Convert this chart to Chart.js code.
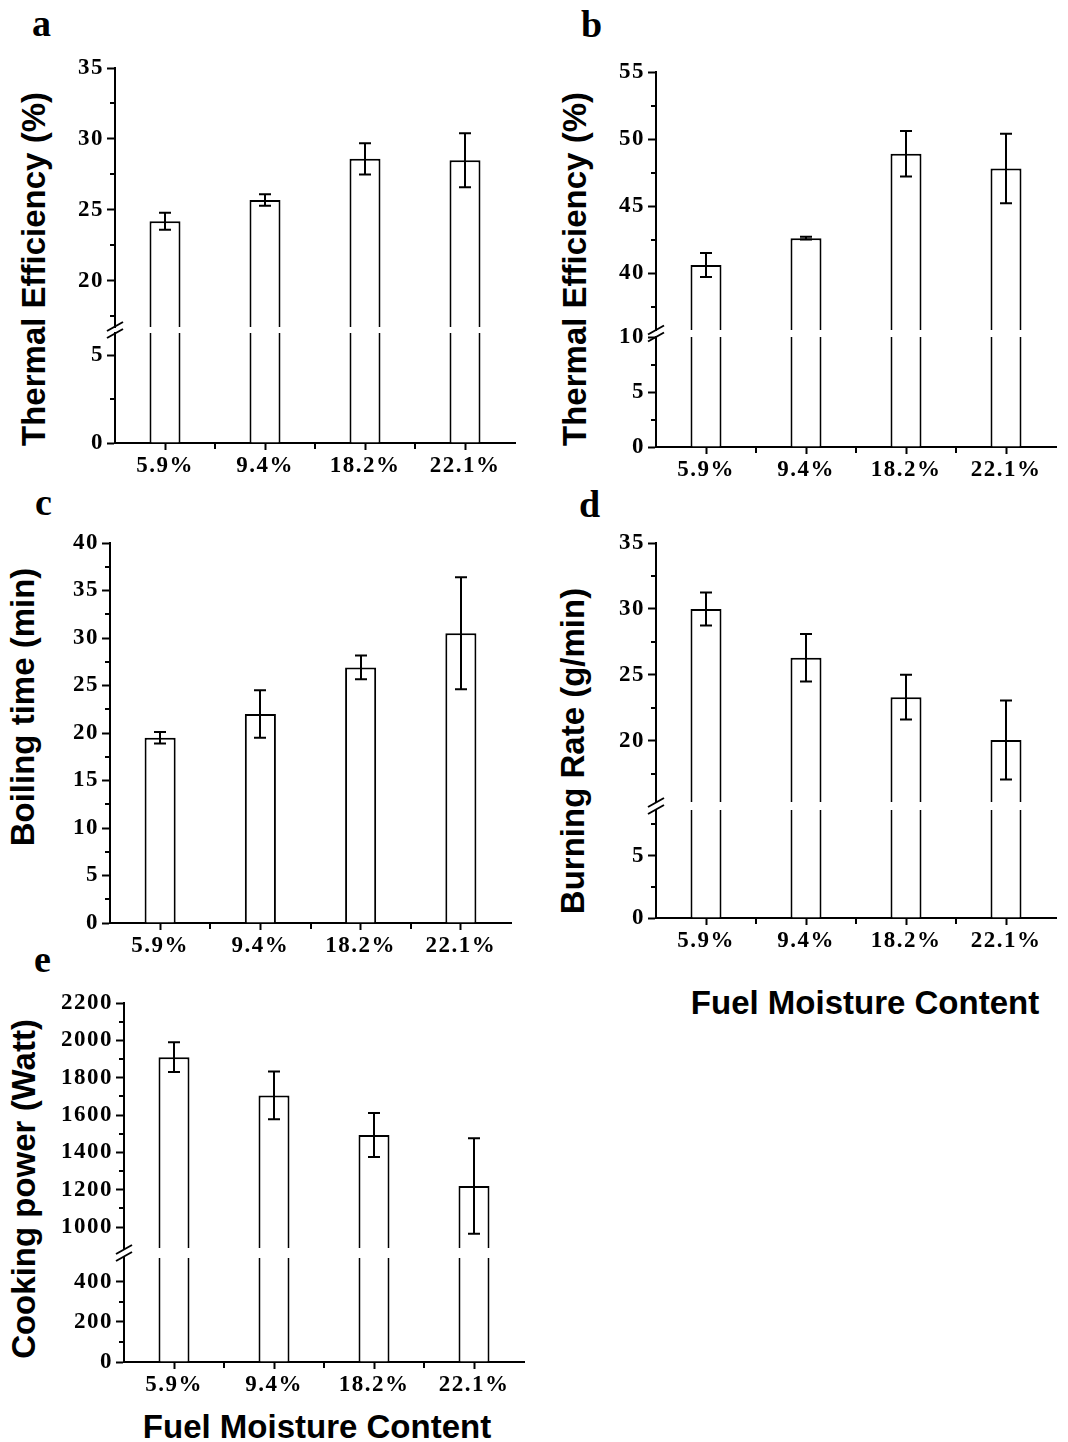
<!DOCTYPE html>
<html>
<head>
<meta charset="utf-8">
<script src="https://cdn.jsdelivr.net/npm/chart.js@4.4.1/dist/chart.umd.min.js"></script>
<style>
  html, body { margin: 0; padding: 0; background: #fff; }
  #fig { position: relative; width: 1068px; height: 1442px; background: #fff; overflow: hidden; }
  .letter { position: absolute; font: bold 38px 'Liberation Serif', 'Times New Roman', serif; line-height: 38px; color: #000; }
  .ytitle { position: absolute; transform: translate(-50%, -50%) rotate(-90deg); white-space: nowrap;
            font: bold 33px 'Liberation Sans', Arial, sans-serif; line-height: 1; color: #000; }
  .xtitle { position: absolute; transform: translate(-50%, -50%); white-space: nowrap;
            font: bold 33px 'Liberation Sans', Arial, sans-serif; line-height: 1; color: #000; }
</style>
</head>
<body>
<div id="fig">
  <div class="letter" style="left:32px;top:4px">a</div>
  <div class="letter" style="left:581px;top:5px">b</div>
  <div class="letter" style="left:35px;top:483px">c</div>
  <div class="letter" style="left:579px;top:485px">d</div>
  <div class="letter" style="left:34px;top:940px">e</div>

  <div class="ytitle" style="left:33px;top:269px">Thermal Efficiency (%)</div>
  <div class="ytitle" style="left:574px;top:269px">Thermal Efficiency (%)</div>
  <div class="ytitle" style="left:22px;top:707px">Boiling time (min)</div>
  <div class="ytitle" style="left:572px;top:751px">Burning Rate (g/min)</div>
  <div class="ytitle" style="left:23px;top:1189px">Cooking power (Watt)</div>

  <div class="xtitle" style="left:865px;top:1002px">Fuel Moisture Content</div>
  <div class="xtitle" style="left:317px;top:1426px">Fuel Moisture Content</div>
</div>
<script>
// valores
const categories = ['5.9%', '9.4%', '18.2%', '22.1%'];

const efficiencyA = [24.2, 25.7, 28.6, 28.5];
const efficiencyAErr = [0.6, 0.4, 1.1, 1.9];

const efficiencyB = [40.6, 42.6, 48.9, 47.8];
const efficiencyBErr = [0.9, 0.1, 1.7, 2.6];

const boilingTime = [19.5, 22.0, 26.9, 30.5];
const boilingTimeErr = [0.6, 2.5, 1.25, 5.9];

const burningRate = [30.0, 26.3, 23.3, 20.05];
const burningRateErr = [1.25, 1.8, 1.7, 3.0];

const cookingPower = [1910, 1705, 1493, 1220];
const cookingPowerErr = [80, 128, 118, 256];

// ticks (major com rótulo, minor só marca)
const ticksAUpper = [20, 25, 30, 35];
const minorAUpper = [17.5, 22.5, 27.5, 32.5];
const ticksALower = [0, 5];
const minorALower = [2.5];

const ticksBUpper = [40, 45, 50, 55];
const minorBUpper = [37.5, 42.5, 47.5, 52.5];
const ticksBLower = [0, 5, 10];
const minorBLower = [2.5, 7.5];

const ticksC = [0, 5, 10, 15, 20, 25, 30, 35, 40];
const minorC = [2.5, 7.5, 12.5, 17.5, 22.5, 27.5, 32.5, 37.5];

const ticksDUpper = [20, 25, 30, 35];
const minorDUpper = [17.5, 22.5, 27.5, 32.5];
const ticksDLower = [0, 5];
const minorDLower = [2.5, 7.5];

const ticksEUpper = [1000, 1200, 1400, 1600, 1800, 2000, 2200];
const minorEUpper = [1100, 1300, 1500, 1700, 1900, 2100];
const ticksELower = [0, 200, 400];
const minorELower = [100, 300];

const PT = 20, PB = 20, YW = 80, XH = 50, PR = 4;
const tickFont = { family: "'Liberation Serif', 'Times New Roman', serif", size: 23, weight: 'bold' };
const fig = document.getElementById('fig');

function segment(s) {
    const W = YW + (s.right - s.axisX) + PR;
    const H = PT + (s.bottom - s.top) + (s.showX ? XH : PB);
    const canvas = document.createElement('canvas');
    canvas.width = W;
    canvas.height = H;
    canvas.style.cssText = `position:absolute;left:${s.axisX - YW}px;top:${s.top - PT}px;width:${W}px;height:${H}px`;
    fig.appendChild(canvas);

    const decor = {
        id: 'decor',
        beforeDraw(chart) {
            // rótulos do original são um pouco mais largos
            chart.ctx.letterSpacing = '1.5px';
        },
        afterDatasetsDraw(chart) {
            const { ctx, chartArea, scales: { x, y } } = chart;
            ctx.save();
            ctx.strokeStyle = '#000';
            ctx.lineWidth = 2;
            ctx.beginPath();
            // barras de erro
            if (s.errors) {
                s.values.forEach((v, i) => {
                    const px = Math.round(x.getPixelForValue(i));
                    const hi = y.getPixelForValue(v + s.errors[i]);
                    const lo = y.getPixelForValue(v - s.errors[i]);
                    ctx.moveTo(px, hi); ctx.lineTo(px, lo);
                    ctx.moveTo(px - 6, hi); ctx.lineTo(px + 6, hi);
                    ctx.moveTo(px - 6, lo); ctx.lineTo(px + 6, lo);
                });
            }
            // minor ticks
            s.minor.forEach(v => {
                const py = Math.round(y.getPixelForValue(v));
                ctx.moveTo(chartArea.left, py);
                ctx.lineTo(chartArea.left - 5, py);
            });
            if (s.showX) {
                for (let i = 0; i < categories.length - 1; i++) {
                    const px = Math.round((x.getPixelForValue(i) + x.getPixelForValue(i + 1)) / 2);
                    ctx.moveTo(px, chartArea.bottom);
                    ctx.lineTo(px, chartArea.bottom + 6);
                }
            }
            ctx.stroke();
            // quebra do eixo
            if (s.breakGap) {
                const mid = chartArea.top - s.breakGap / 2;
                const lx = chartArea.left;
                ctx.beginPath();
                ctx.moveTo(lx - 8, mid + 1); ctx.lineTo(lx + 8, mid - 8);
                ctx.moveTo(lx - 8, mid + 8); ctx.lineTo(lx + 8, mid - 1);
                ctx.stroke();
            }
            ctx.restore();
        }
    };

    return new Chart(canvas, {
        type: 'bar',
        data: {
            labels: categories,
            datasets: [{
                data: s.values,
                backgroundColor: '#fff',
                borderColor: '#000',
                borderWidth: 2,
                borderSkipped: 'start',
                categoryPercentage: 1,
                barPercentage: 0.31,
                clip: 0
            }]
        },
        options: {
            responsive: false,
            animation: false,
            devicePixelRatio: 1,
            layout: { padding: { top: PT, right: PR, left: 0, bottom: s.showX ? 0 : PB } },
            plugins: { legend: { display: false }, tooltip: { enabled: false } },
            scales: {
                x: {
                    display: s.showX,
                    offset: true,
                    grid: { display: true, offset: false, drawOnChartArea: false, tickLength: 7, tickWidth: 2, tickColor: '#000' },
                    border: { display: true, color: '#000', width: 2 },
                    ticks: { color: '#000', font: tickFont, padding: 2, maxRotation: 0, autoSkip: false },
                    afterFit: sc => { if (s.showX) sc.height = XH; }
                },
                y: {
                    min: s.min,
                    max: s.max,
                    afterBuildTicks: sc => { sc.ticks = s.ticks.map(v => ({ value: v })); },
                    afterFit: sc => { sc.width = YW; },
                    grid: { display: true, drawOnChartArea: false, tickLength: 8, tickWidth: 2, tickColor: '#000' },
                    border: { display: true, color: '#000', width: 2 },
                    ticks: { color: '#000', font: tickFont, padding: 3, callback: v => String(v) }
                }
            }
        },
        plugins: [decor]
    });
}

// a
segment({ axisX: 115, right: 515, top: 68, bottom: 327, min: 16.75, max: 35, ticks: ticksAUpper, minor: minorAUpper, values: efficiencyA, errors: efficiencyAErr, showX: false });
segment({ axisX: 115, right: 515, top: 333, bottom: 443, min: 0, max: 6.25, ticks: ticksALower, minor: minorALower, values: efficiencyA, showX: true, breakGap: 6 });
// b
segment({ axisX: 656, right: 1056, top: 72, bottom: 330, min: 35.75, max: 55, ticks: ticksBUpper, minor: minorBUpper, values: efficiencyB, errors: efficiencyBErr, showX: false });
segment({ axisX: 656, right: 1056, top: 337, bottom: 447, min: 0, max: 10, ticks: ticksBLower, minor: minorBLower, values: efficiencyB, showX: true, breakGap: 7 });
// c
segment({ axisX: 110, right: 511, top: 543, bottom: 923, min: 0, max: 40, ticks: ticksC, minor: minorC, values: boilingTime, errors: boilingTimeErr, showX: true });
// d
segment({ axisX: 656, right: 1056, top: 543, bottom: 802, min: 15.35, max: 35, ticks: ticksDUpper, minor: minorDUpper, values: burningRate, errors: burningRateErr, showX: false });
segment({ axisX: 656, right: 1056, top: 810, bottom: 918, min: 0, max: 8.65, ticks: ticksDLower, minor: minorDLower, values: burningRate, showX: true, breakGap: 8 });
// e
segment({ axisX: 124, right: 524, top: 1003, bottom: 1248, min: 888, max: 2200, ticks: ticksEUpper, minor: minorEUpper, values: cookingPower, errors: cookingPowerErr, showX: false });
segment({ axisX: 124, right: 524, top: 1258, bottom: 1362, min: 0, max: 518, ticks: ticksELower, minor: minorELower, values: cookingPower, showX: true, breakGap: 10 });
</script>
</body>
</html>
